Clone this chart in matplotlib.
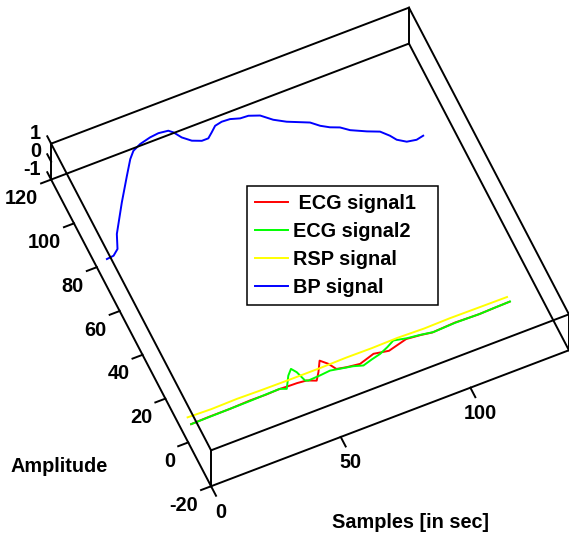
import matplotlib
matplotlib.use('Agg')
import matplotlib.pyplot as plt
from mpl_toolkits.mplot3d import proj3d
from itertools import combinations, product

# values (x in samples, amplitude)
ecg1_x = [1, 8, 16, 24, 30, 35, 39, 42, 45.5, 48.7, 50.7, 53, 55.3, 57, 60.5,
          65.5, 71.5, 77, 84.5, 90, 94, 103, 112, 118, 124]
ecg1 = [-0.3, -0.1, -0.1, 0.2, 0.1, 0.3, 0.1, 0.0, -0.4, -1.9, 1.1, 5.3, 2.8,
        -0.3, -1.1, -1.8, 0.1, -1.0, 1.0, 0.4, -0.3, 0.2, -0.1, 0.1, 0.25]

ecg2_x = [1, 8, 16, 24, 30, 35.5, 37.7, 40.4, 42.4, 43.7, 45, 46, 50.6, 54.7,
          58.5, 62.9, 66.3, 70, 73.6, 77, 80.1, 84.8, 90, 94.4, 103, 112.5, 118, 124.2]
ecg2 = [-0.3, -0.2, -0.1, 0.0, 0.2, 0.3, -0.7, 4.1, 6.3, 4.2, -0.2, -0.65, -0.4,
        0.0, -0.8, -1.7, -2.9, -1.8, -0.9, 0.6, 2.3, 1.2, 0.5, -0.3, 0.1, -0.1, 0.1, 0.25]

rsp_x = [1, 10, 20, 29, 40, 52, 62, 72, 82, 92, 102, 112, 124]
rsp = [2.8, 2.5, 2.7, 2.5, 2.4, 2.4, 2.6, 2.5, 2.7, 2.4, 2.6, 2.5, 2.4]

bp_x = [1.6, 4.3, 6.7, 9.0, 15.9, 22.0, 25.9, 28.3, 31.6, 35.9, 39.3, 42.9, 44.3,
        46.1, 48.8, 52.0, 54.5, 56.6, 58.8, 61.6, 64.7, 68.1, 71.2, 75.0, 78.5,
        82.5, 89.9, 92.6, 95.5, 98.7, 101.5, 106.7, 110.9, 113.4, 114.9, 117.8,
        121.3, 124.1]
bp = [74.8, 75.1, 77.1, 82.9, 94.2, 103.6, 109.5, 112.2, 113.8, 114.9, 115.3,
      114.8, 113.4, 110.3, 107.6, 106.1, 106.1, 107.9, 109.9, 110.5, 110.3, 109.1,
      108.9, 107.3, 103.8, 101.1, 97.4, 94.7, 92.7, 91.2, 88.7, 85.8, 83.8, 80.8,
      78.3, 76.1, 75.4, 76.0]

labels = [' ECG signal1', 'ECG signal2', 'RSP signal', 'BP signal']

xlim = (0, 138)
ylim = (-20, 120)
zlim = (-1, 1)
x_ticks = [0, 50, 100]
y_ticks = [-20, 0, 20, 40, 60, 80, 100, 120]
z_ticks = [-1, 0, 1]

plt.rcParams['font.family'] = ['Liberation Sans', 'DejaVu Sans']
plt.rcParams['font.weight'] = 'bold'
plt.rcParams['font.size'] = 14.3

fig = plt.figure(figsize=(5.69, 5.43), dpi=100)
ax = fig.add_axes([0.0548, 0.0317, 0.9543, 1.0], projection='3d', proj_type='ortho')
ax.view_init(elev=58.6, azim=-114)
ax.set_box_aspect((1, 1.004, 0.176))
ax.set_xlim(*xlim)
ax.set_ylim(*ylim)
ax.set_zlim(*zlim)
ax.set_axis_off()

lw = 1.4
ax.plot(ecg1_x, ecg1, 0, color='#ff0000', lw=lw, label=labels[0])
ax.plot(ecg2_x, ecg2, 0, color='#00ff00', lw=lw, label=labels[1])
ax.plot(rsp_x, rsp, 0, color='#ffff00', lw=lw, label=labels[2])
ax.plot(bp_x, bp, 0, color='#0000ff', lw=lw, label=labels[3])

# box outline (all 12 edges, like matlab "box on")
corners = list(product(xlim, ylim, zlim))
for p, q in combinations(corners, 2):
    if sum(a != b for a, b in zip(p, q)) == 1:
        ax.plot(*zip(p, q), color='k', lw=lw)


def on_screen(x, y, z):
    # projected 2d position of a 3d point (in ax.transData coords)
    px, py, _ = proj3d.proj_transform(x, y, z, ax.get_proj())
    return px, py


def tick_label(s, xyz, offset, ha):
    ax.annotate(s, xy=on_screen(*xyz), xytext=offset, textcoords='offset pixels',
                ha=ha, va='center', annotation_clip=False)


# tick marks and labels
xr = xlim[1] - xlim[0]
yr = ylim[1] - ylim[0]
for t in x_ticks:
    ax.plot([t, t], [ylim[0], ylim[0] - 0.031 * yr], [zlim[0]] * 2, color='k', lw=lw)
    tick_label(str(t), (t, ylim[0], zlim[0]), (10, -26), 'center')
for t in y_ticks:
    ax.plot([xlim[0], xlim[0] - 0.028 * xr], [t, t], [zlim[0]] * 2, color='k', lw=lw)
    tick_label(str(t), (xlim[0], t, zlim[0]), (-13, -19), 'right')
for t in z_ticks:
    ax.plot([xlim[0]] * 2, [ylim[1], ylim[1] + 0.024 * yr], [t, t], color='k', lw=lw)
    tick_label(str(t), (xlim[0], ylim[1], t), (-10, 10), 'right')

fig.text(59 / 569, 1 - 467 / 543, 'Amplitude', ha='center', va='center')
fig.text(410 / 569, 1 - 523 / 543, 'Samples [in sec]', ha='center', va='center')

leg = ax.legend(loc='upper left', mode='expand',
                bbox_to_anchor=(247 / 569, 1 - 305 / 543, 191 / 569, 119 / 543),
                bbox_transform=fig.transFigure, borderaxespad=0,
                fancybox=False, framealpha=1, edgecolor='k',
                handlelength=1.66, handletextpad=0.25, borderpad=0.4,
                labelspacing=0.45)
leg.get_frame().set_linewidth(1.1)

fig.savefig('out.png', dpi=100)
